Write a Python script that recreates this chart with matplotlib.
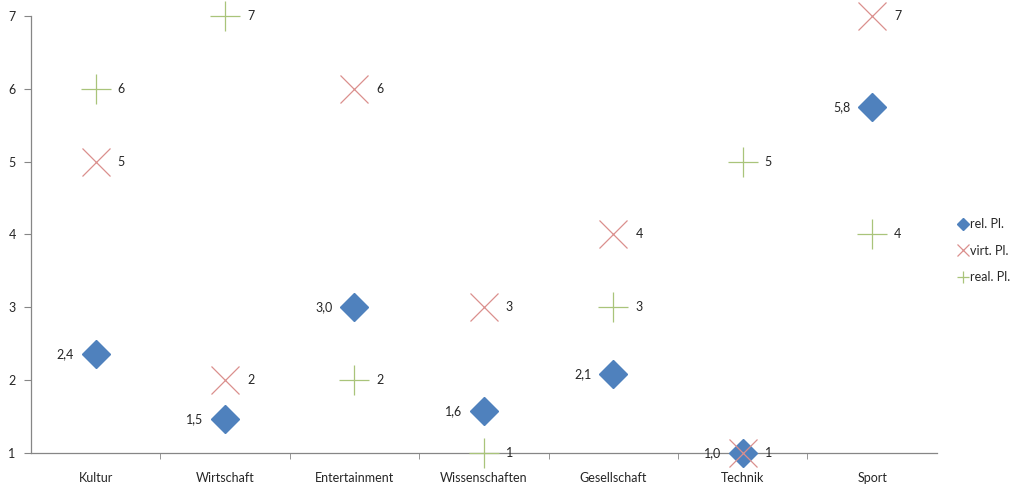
import numpy as np
import matplotlib.pyplot as plt

categories = ["Kultur", "Wirtschaft", "Entertainment", "Wissenschaften",
              "Gesellschaft", "Technik", "Sport"]
rel_pl = [2.36, 1.47, 3.0, 1.58, 2.08, 1.0, 5.75]
virt_pl = [5, 2, 6, 3, 4, 1, 7]
real_pl = [6, 7, 2, 1, 3, 5, 4]

plt.rcParams['font.family'] = ['Lato', 'DejaVu Sans']

fig = plt.figure(figsize=(10.15, 4.84), dpi=100)
ax = fig.add_axes([0.0305, 0.064, 0.8925, 0.903])

x = np.arange(len(categories))
txt = dict(fontsize=9, color='#262626', va='center', clip_on=False)

ax.plot(x, rel_pl, ls='none', marker='D', ms=14, color='#4F81BD',
        mec='#4F81BD', label='rel. Pl.', clip_on=False, zorder=3)
ax.plot(x, virt_pl, ls='none', marker='x', ms=20, mew=0.9, color='#DB8F8D',
        label='virt. Pl.', clip_on=False, zorder=4)
ax.plot(x, real_pl, ls='none', marker='+', ms=21, mew=0.9, color='#A9C47A',
        label='real. Pl.', clip_on=False, zorder=4)

for xi, v in zip(x, rel_pl):
    ax.text(xi - 0.17, v, ("%.1f" % v).replace('.', ','), ha='right', **txt)
for xi, v in zip(x, virt_pl):
    ax.text(xi + 0.17, v, str(v), ha='left', **txt)
for xi, v in zip(x, real_pl):
    ax.text(xi + 0.17, v, str(v), ha='left', **txt)

ax.set_xlim(-0.5, len(categories) - 0.5)
ax.set_ylim(1, 7)
ax.set_yticks(range(1, 8))
ax.set_xticks(x)
ax.set_xticklabels(categories)
ax.set_xticks(np.arange(0.5, len(categories) - 0.5), minor=True)
ax.tick_params(axis='x', which='major', length=0, pad=14, labelsize=9,
               labelcolor='#262626')
ax.tick_params(axis='x', which='minor', length=4, color='#868686',
               direction='out')
ax.tick_params(axis='y', length=5, color='#868686', labelsize=9,
               labelcolor='#262626', pad=6)
for side in ['top', 'right']:
    ax.spines[side].set_visible(False)
for side in ['left', 'bottom']:
    ax.spines[side].set_color('#868686')
    ax.spines[side].set_linewidth(0.9)

leg = ax.legend(loc='center left', bbox_to_anchor=(1.012, 0.463), frameon=False,
                fontsize=9, markerscale=0.42, handlelength=0.6,
                handletextpad=0.25, labelspacing=1.15)
for t in leg.get_texts():
    t.set_color('#262626')

fig.savefig('out.png', dpi=100)
